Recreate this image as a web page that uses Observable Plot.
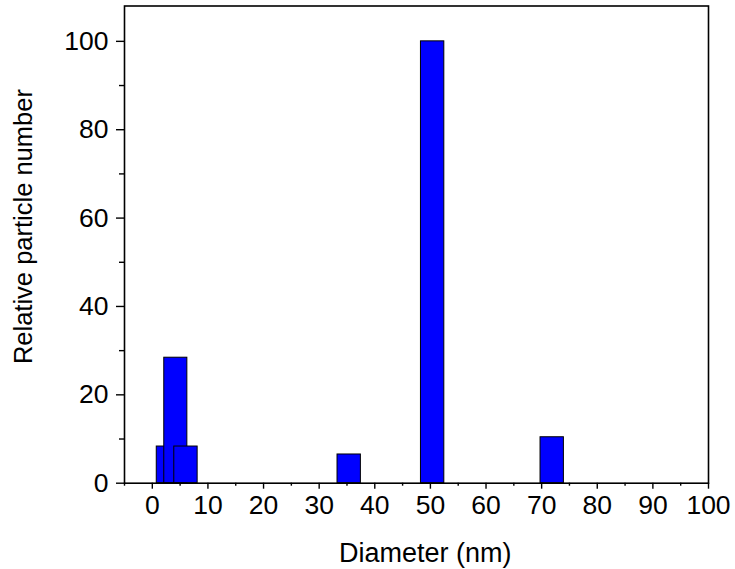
<!DOCTYPE html>
<html>
<head>
<meta charset="utf-8">
<script src="https://cdn.jsdelivr.net/npm/d3@7"></script>
<script src="https://cdn.jsdelivr.net/npm/@observablehq/plot@0.6"></script>
<style>
  html, body { margin: 0; padding: 0; background: #fff; }
</style>
</head>
<body>
<div id="chart"></div>
<script>
// Histogram bins (diameter in nm) and relative particle numbers
const binStart = [0.8, 2.15, 3.95, 33.3, 48.3, 69.8];
const binEnd   = [5.0, 6.3, 8.15, 37.5, 52.5, 74.0];
const counts   = [8.3, 28.4, 8.3, 6.5, 100, 10.4];

const xMajorTicks = [0, 10, 20, 30, 40, 50, 60, 70, 80, 90, 100];
const xMinorTicks = [-5, 5, 15, 25, 35, 45, 55, 65, 75, 85, 95];
const yMajorTicks = [0, 20, 40, 60, 80, 100];
const yMinorTicks = [10, 30, 50, 70, 90];

const xTitle = "Diameter (nm)";
const yTitle = "Relative particle number";

const bins = binStart.map((s, i) => ({x1: s, x2: binEnd[i], y: counts[i]}));

const font = "'Liberation Sans', Arial, Helvetica, sans-serif";

const chart = Plot.plot({
  width: 735,
  height: 569,
  marginLeft: 124,
  marginRight: 27,
  marginTop: 5.5,
  marginBottom: 86.3,
  style: {fontFamily: font, fontSize: "26px", background: "#fff", color: "#000", overflow: "visible"},
  x: {domain: [-5, 100]},
  y: {domain: [0, 108]},
  marks: [
    Plot.rect(bins, {x1: "x1", x2: "x2", y1: 0, y2: "y", fill: "#0000ff", stroke: "#000", strokeWidth: 1}),
    Plot.frame({stroke: "#000", strokeWidth: 1.6}),
    Plot.axisX(xMajorTicks, {tickSize: 6, tickPadding: 6, strokeWidth: 1.4, fontSize: 26.5, label: null, tickFormat: d => String(d)}),
    Plot.axisX(xMinorTicks, {tickSize: 3, strokeWidth: 1.4, label: null, tickFormat: () => ""}),
    Plot.axisY(yMajorTicks, {tickSize: 8, tickPadding: 8, strokeWidth: 1.4, fontSize: 26.5, label: null, tickFormat: d => String(d)}),
    Plot.axisY(yMinorTicks, {tickSize: 5, strokeWidth: 1.4, label: null, tickFormat: () => ""}),
    Plot.text([xTitle], {frameAnchor: "bottom", text: d => d, dx: 8.7, dy: 70, textAnchor: "middle", lineAnchor: "middle", fontSize: 27, fill: "#000"}),
    Plot.text([yTitle], {frameAnchor: "left", text: d => d, rotate: -90, dx: -101, dy: -18, textAnchor: "middle", lineAnchor: "middle", fontSize: 25.5, fill: "#000"})
  ]
});

document.getElementById("chart").appendChild(chart);
</script>
</body>
</html>
